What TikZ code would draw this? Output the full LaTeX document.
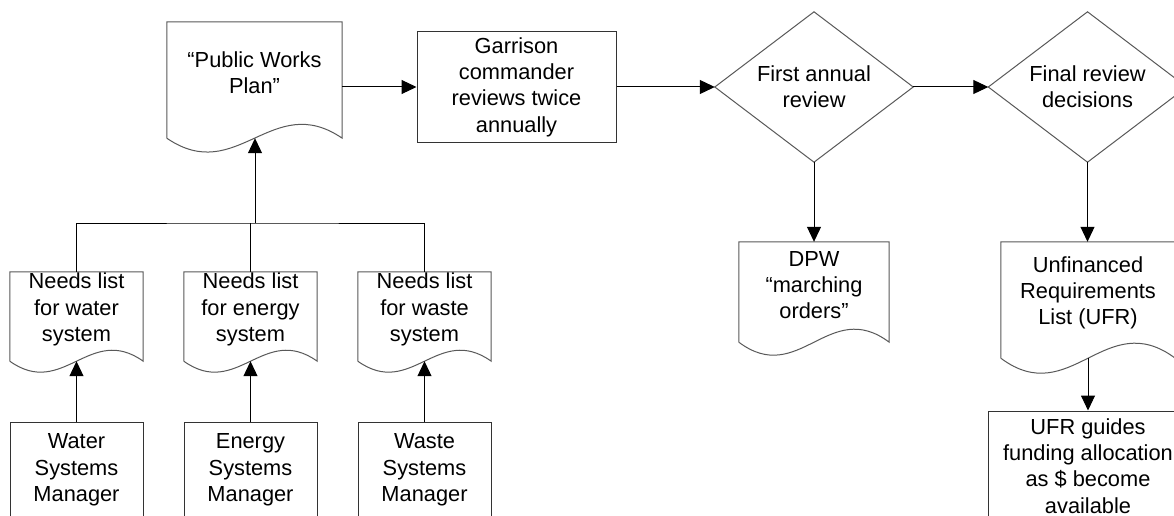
\documentclass[tikz,border=0pt]{standalone}
\usepackage{fontspec}
\setmainfont{Liberation Sans}
\usetikzlibrary{arrows.meta,calc}

\tikzset{
  txt/.style={font=\fontsize{21.8}{26.3}\selectfont, align=center, text=black},
  box/.style={txt, draw=black!80, line width=1pt, inner sep=0pt},
  docbox/.style={inner sep=0pt, draw=none},
  doctext/.style={txt, inner sep=0pt, yshift=7pt},
  decbox/.style={txt, inner sep=0pt, draw=none},
  docline/.style={draw=black!65, line width=1pt},
  decline/.style={draw=black!65, line width=1pt},
  flow/.style={draw=black, line width=1pt, -{Triangle[length=15pt,width=14pt]}},
  wire/.style={draw=black, line width=1pt},
}

% document outline: straight top and sides, wavy bottom edge
\newcommand\docoutline[2]{%
  \draw[docline] (#1.south west) -- (#1.north west) -- (#1.north east) -- (#1.south east)
    .. controls ($(#1.south east)!0.4!(#1.south west)+(0,-#2)$)
       and ($(#1.south east)!0.6!(#1.south west)+(0,#2)$) .. (#1.south west);}
% decision outline through the four mid-points of its node
\newcommand\decoutline[1]{%
  \draw[decline] (#1.north) -- (#1.east) -- (#1.south) -- (#1.west) -- cycle;}

\begin{document}
\begin{tikzpicture}[x=1pt, y=-1pt]
  \useasboundingbox (0,0) rectangle (1174,516);
  \fill[white] (0,0) rectangle (1174,516);
  \clip (0,0) rectangle (1174,516);

  % top row
  \node[docbox, minimum width=175, minimum height=116,
        label={[doctext]center:{“Public Works\\Plan”}}] (pwp) at (254.5,80) {};
  \node[box, minimum width=199, minimum height=110] (gar) at (516.5,87)
        {Garrison\\commander\\reviews twice\\annually};
  \node[decbox, minimum width=198, minimum height=150] (rev1) at (814,87)
        {First annual\\review};
  \node[decbox, minimum width=198, minimum height=150] (rev2) at (1087.5,87)
        {Final review\\decisions};

  % outputs of the reviews
  \node[docbox, minimum width=150, minimum height=100,
        label={[doctext]center:{DPW\\“marching\\orders”}}] (dpw) at (814,292) {};
  \node[docbox, minimum width=174, minimum height=116,
        label={[doctext]center:{Unfinanced\\Requirements\\List (UFR)}}] (ufr) at (1088,300) {};
  \node[box, minimum width=200, minimum height=110] (alloc) at (1088,466)
        {UFR guides\\funding allocation\\as \$ become\\available};

  % needs lists
  \node[docbox, minimum width=133, minimum height=89,
        label={[doctext]center:{Needs list\\for water\\system}}] (nwater) at (76.5,316.5) {};
  \node[docbox, minimum width=133, minimum height=89,
        label={[doctext]center:{Needs list\\for energy\\system}}] (nenergy) at (250.5,316.5) {};
  \node[docbox, minimum width=133, minimum height=89,
        label={[doctext]center:{Needs list\\for waste\\system}}] (nwaste) at (424.5,316.5) {};

  % managers
  \node[box, minimum width=133, minimum height=96] (mwater) at (76.5,470)
        {Water\\Systems\\Manager};
  \node[box, minimum width=133, minimum height=96] (menergy) at (250.5,470)
        {Energy\\Systems\\Manager};
  \node[box, minimum width=133, minimum height=96] (mwaste) at (424.5,470)
        {Waste\\Systems\\Manager};

  % outlines
  \docoutline{pwp}{48}
  \docoutline{dpw}{45}
  \docoutline{ufr}{52}
  \docoutline{nwater}{38}
  \docoutline{nenergy}{38}
  \docoutline{nwaste}{38}
  \decoutline{rev1}
  \decoutline{rev2}

  % connectors
  \coordinate (junc) at (255,223);
  \draw[wire] (nwater.north) |- (junc) -| (nwaste.north);
  \draw[wire] (nenergy.north) -- (nenergy.north |- junc);
  \draw[flow] (junc) -- (junc |- pwp.south);

  \draw[flow] (mwater.north) -- (nwater.south);
  \draw[flow] (menergy.north) -- (nenergy.south);
  \draw[flow] (mwaste.north) -- (nwaste.south);

  \draw[flow] (pwp.east |- gar.west) -- (gar.west);
  \draw[flow] (gar.east) -- (rev1.west);
  \draw[flow] (rev1.east) -- (rev2.west);
  \draw[flow] (rev1.south) -- (dpw.north);
  \draw[flow] (rev2.south) -- (rev2.south |- ufr.north);
  \draw[flow] (ufr.south) -- (alloc.north);
\end{tikzpicture}
\end{document}
